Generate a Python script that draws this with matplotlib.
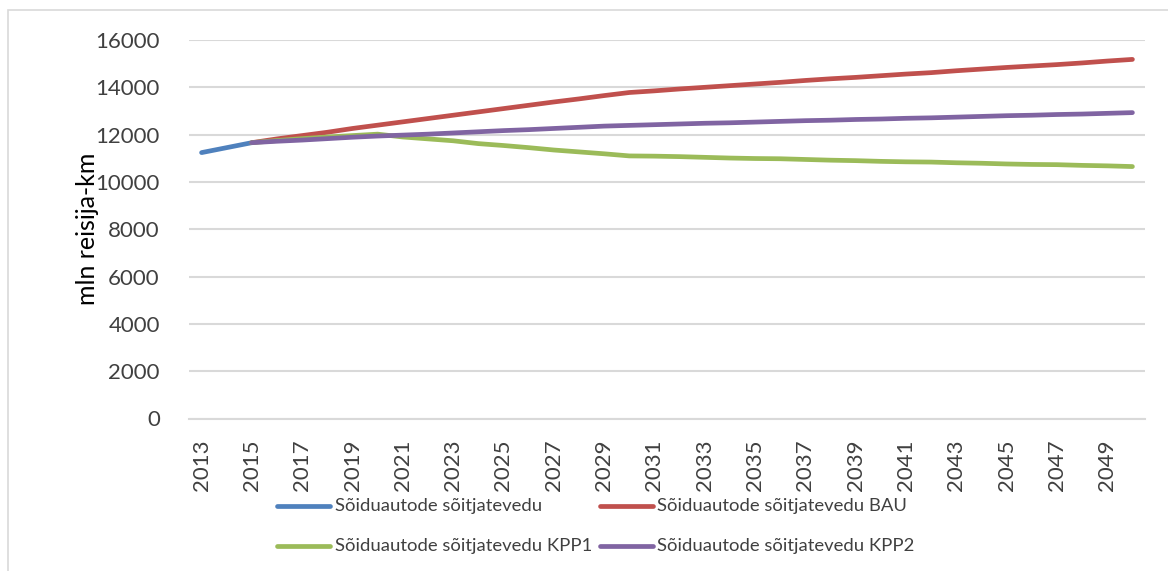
import matplotlib
matplotlib.use("Agg")
import matplotlib.pyplot as plt
from matplotlib.patches import Rectangle
from matplotlib.lines import Line2D

plt.rcParams['font.family'] = ['Lato', 'DejaVu Sans']

years = list(range(2013, 2051))

base_years = [2013, 2014, 2015]
base = [11240, 11450, 11660]

scen_years = list(range(2015, 2051))
bau = [11660, 11820, 11960, 12100, 12260, 12400, 12540, 12680, 12820, 12960,
       13100, 13240, 13380, 13510, 13650, 13780, 13850, 13930, 14000, 14070,
       14140, 14210, 14290, 14360, 14420, 14490, 14560, 14620, 14700, 14770,
       14840, 14900, 14960, 15030, 15110, 15180]
kpp1 = [11660, 11750, 11830, 11900, 11960, 12020, 11900, 11820, 11740, 11620,
        11540, 11450, 11350, 11270, 11190, 11100, 11090, 11070, 11040, 11010,
        10990, 10980, 10950, 10920, 10900, 10870, 10850, 10840, 10810, 10790,
        10760, 10740, 10730, 10700, 10680, 10650]
kpp2 = [11660, 11720, 11770, 11830, 11890, 11940, 11980, 12020, 12070, 12120,
        12170, 12210, 12260, 12310, 12360, 12390, 12420, 12450, 12480, 12500,
        12530, 12560, 12590, 12610, 12640, 12660, 12690, 12710, 12740, 12770,
        12800, 12820, 12850, 12870, 12900, 12930]

labels = ["Sõiduautode sõitjatevedu",
          "Sõiduautode sõitjatevedu BAU",
          "Sõiduautode sõitjatevedu KPP1",
          "Sõiduautode sõitjatevedu KPP2"]
colors = ["#4f81bd", "#c0504d", "#9bbb59", "#8064a2"]

y_ticks = list(range(0, 16001, 2000))
x_ticks = list(range(2013, 2050, 2))

W, H = 1168, 571
fig = plt.figure(figsize=(W / 100, H / 100), dpi=100)

# chart area frame
fig.patches.append(Rectangle((7.5 / W, -0.1), 1.2, 1 - 10 / H + 0.1,
                             transform=fig.transFigure, fill=False,
                             edgecolor="#d9d9d9", linewidth=1.2, zorder=0))

left, right, top, bottom = 189, 1145, 40, 418.5
ax = fig.add_axes([left / W, 1 - bottom / H, (right - left) / W, (bottom - top) / H])

lw = 3.4
ax.plot(base_years, base, color=colors[0], lw=lw, solid_capstyle="round", zorder=3)
ax.plot(scen_years, bau, color=colors[1], lw=lw, solid_capstyle="round", zorder=3)
ax.plot(scen_years, kpp1, color=colors[2], lw=lw, solid_capstyle="round", zorder=3)
ax.plot(scen_years, kpp2, color=colors[3], lw=lw, solid_capstyle="round", zorder=4)

ax.set_xlim(years[0] - 0.5, years[-1] + 0.5)
ax.set_ylim(0, 16000)
ax.set_yticks(y_ticks)
ax.set_xticks(x_ticks)
ax.set_xticklabels([str(y) for y in x_ticks], rotation=90)
ax.tick_params(axis="both", length=0, labelsize=16, colors="#404040")
ax.tick_params(axis="y", pad=21)
ax.tick_params(axis="x", pad=15)
ax.grid(axis="y", color="#d9d9d9", lw=1.5)
ax.set_axisbelow(True)
for s in ["top", "right", "left"]:
    ax.spines[s].set_visible(False)
ax.spines["bottom"].set_color("#d9d9d9")
ax.spines["bottom"].set_linewidth(1.5)

fig.text(87 / W, 1 - 229 / H, "mln reisija-km", rotation=90, ha="center",
         va="center", fontsize=18, color="black")

# legend: two rows, two columns
leg_cols = [(277, 330, 335), (600, 653, 657)]
leg_rows = [506, 546]
for i, (lab, c) in enumerate(zip(labels, colors)):
    x0, x1, xt = leg_cols[i % 2]
    yy = 1 - leg_rows[i // 2] / H
    fig.add_artist(Line2D([x0 / W, x1 / W], [yy, yy], transform=fig.transFigure,
                          color=c, lw=lw, solid_capstyle="round"))
    fig.text(xt / W, yy, lab, ha="left", va="center", fontsize=13.3,
             color="#404040")

fig.savefig("out.png", dpi=100)
